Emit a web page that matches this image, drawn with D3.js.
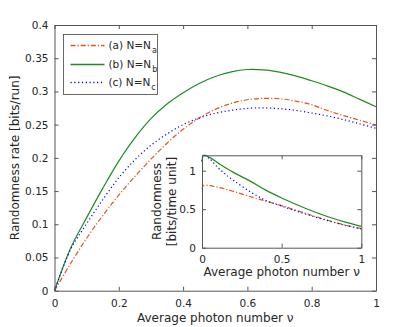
<!DOCTYPE html>
<html>
<head>
<meta charset="utf-8">
<script src="https://cdn.jsdelivr.net/npm/d3@7"></script>
<style>
  body { margin: 0; background: #fff; }
  svg { font-family: "DejaVu Sans", sans-serif; }
  .axis text { fill: #262626; }
  .axis line, .axis path { stroke: #555; }
</style>
</head>
<body>
<svg></svg>
<script>
const W = 415, H = 327;

// main plot data
const nu = [0, 0.05, 0.1, 0.15, 0.2, 0.25, 0.3, 0.35, 0.4, 0.45, 0.5, 0.55, 0.6, 0.65, 0.7, 0.75, 0.8, 0.85, 0.9, 0.95, 1];
const rateA = [0, 0.041, 0.079, 0.113, 0.144, 0.172, 0.198, 0.222, 0.243, 0.26, 0.273, 0.282, 0.2875, 0.2895, 0.289, 0.2855, 0.28, 0.271, 0.2635, 0.2565, 0.2495];
const rateB = [0, 0.064, 0.11, 0.154, 0.195, 0.23, 0.259, 0.281, 0.298, 0.312, 0.3225, 0.3295, 0.333, 0.3325, 0.329, 0.3235, 0.316, 0.308, 0.299, 0.288, 0.277];
const rateC = [0, 0.062, 0.101, 0.137, 0.17, 0.197, 0.219, 0.236, 0.25, 0.26, 0.267, 0.2715, 0.2745, 0.2752, 0.274, 0.2715, 0.2675, 0.263, 0.2575, 0.251, 0.2445];

// inset data (per time unit)
const nuIn = [0, 0.01, 0.05, 0.1, 0.15, 0.2, 0.3, 0.4, 0.5, 0.6, 0.7, 0.8, 0.9, 1];
const perTimeA = [0.76, 0.81, 0.805, 0.785, 0.76, 0.73, 0.665, 0.605, 0.546, 0.48, 0.413, 0.35, 0.294, 0.248];
const perTimeB = [1.12, 1.2, 1.17, 1.1, 1.035, 0.975, 0.868, 0.748, 0.646, 0.555, 0.47, 0.395, 0.332, 0.277];
const perTimeC = [1.12, 1.2, 1.15, 1.04, 0.95, 0.87, 0.73, 0.615, 0.54, 0.47, 0.405, 0.345, 0.29, 0.245];

const xTicks = [0, 0.2, 0.4, 0.6, 0.8, 1];
const yTicks = [0, 0.05, 0.1, 0.15, 0.2, 0.25, 0.3, 0.35, 0.4];
const inTicks = [0, 0.5, 1];

const series = [
  { label: "(a) N=N", sub: "a", main: rateA, inset: perTimeA, color: "#e0561b", dash: "5,2,1.2,2" },
  { label: "(b) N=N", sub: "b", main: rateB, inset: perTimeB, color: "#1e8c1e", dash: null },
  { label: "(c) N=N", sub: "c", main: rateC, inset: perTimeC, color: "#0000ff", dash: "1.2,2.6" }
];

const svg = d3.select("svg").attr("width", W).attr("height", H);
svg.append("rect").attr("width", W).attr("height", H).attr("fill", "#fff");

function drawBox(g, x, y, xt, yt, fmt, pad) {
  const [x0, x1] = x.range(), [y0, y1] = y.range();
  const axes = [
    [d3.axisBottom(x).tickValues(xt).tickFormat(fmt).tickPadding(pad.x), `translate(0,${y0})`],
    [d3.axisTop(x).tickValues(xt).tickFormat(""), `translate(0,${y1})`],
    [d3.axisLeft(y).tickValues(yt).tickFormat(fmt).tickPadding(pad.y), `translate(${x0},0)`],
    [d3.axisRight(y).tickValues(yt).tickFormat(""), `translate(${x1},0)`]
  ];
  axes.forEach(([ax, tr]) => {
    g.append("g").attr("class", "axis").attr("transform", tr)
      .call(ax.tickSize(-4).tickSizeOuter(0))
      .attr("font-family", null).attr("font-size", pad.fs);
  });
}

const fmt = d => String(+d.toFixed(2));
const curve = d3.curveCatmullRom.alpha(0.5);

// ---- main plot
const x = d3.scaleLinear().domain([0, 1]).range([54.5, 376]);
const y = d3.scaleLinear().domain([0, 0.4]).range([290.7, 25]);
const main = svg.append("g");

series.forEach(s => {
  const line = d3.line().x((d, i) => x(nu[i])).y(d => y(d)).curve(curve);
  main.append("path").datum(s.main).attr("d", line)
    .attr("fill", "none").attr("stroke", s.color).attr("stroke-width", 1.2)
    .attr("stroke-dasharray", s.dash);
});
drawBox(main, x, y, xTicks, yTicks, fmt, { x: 9, y: 6, fs: 10.5 });

main.append("text").attr("x", (x(0) + x(1)) / 2).attr("y", 322).attr("text-anchor", "middle")
  .attr("font-size", 12).attr("fill", "#262626").text("Average photon number  ν");
main.append("text").attr("transform", `translate(19,${(y(0) + y(0.4)) / 2}) rotate(-90)`)
  .attr("text-anchor", "middle").attr("font-size", 12).attr("fill", "#262626")
  .text("Randomness rate [bits/run]");

// ---- legend
const leg = svg.append("g").attr("transform", "translate(63.5,34.5)");
leg.append("rect").attr("width", 94).attr("height", 60).attr("fill", "#fff").attr("stroke", "#444").attr("stroke-width", 0.8);
series.forEach((s, i) => {
  const ly = Math.round(11 + i * 18.5);
  leg.append("line").attr("x1", 7).attr("x2", 41).attr("y1", ly).attr("y2", ly)
    .attr("stroke", s.color).attr("stroke-width", 1.3).attr("stroke-dasharray", s.dash);
  const t = leg.append("text").attr("x", 45).attr("y", ly + 3.8).attr("font-size", 10.5).attr("fill", "#262626");
  t.append("tspan").text(s.label);
  t.append("tspan").attr("dy", 4).attr("dx", 1).attr("font-size", 8).text(s.sub);
});

// ---- inset
const xi = d3.scaleLinear().domain([0, 1]).range([202, 361.3]);
const yi = d3.scaleLinear().domain([0, 1.2]).range([247.7, 155.3]);
const ins = svg.append("g");
ins.append("rect").attr("x", 202).attr("y", 155.3).attr("width", 159.3).attr("height", 92.4).attr("fill", "#fff");
series.forEach(s => {
  const line = d3.line().x((d, i) => xi(nuIn[i])).y(d => yi(d)).curve(curve);
  ins.append("path").datum(s.inset).attr("d", line)
    .attr("fill", "none").attr("stroke", s.color).attr("stroke-width", 1.2)
    .attr("stroke-dasharray", s.dash);
});
drawBox(ins, xi, yi, inTicks, inTicks, fmt, { x: 8, y: 6, fs: 10.5 });

ins.append("text").attr("x", (xi(0) + xi(1)) / 2).attr("y", 276).attr("text-anchor", "middle")
  .attr("font-size", 12).attr("fill", "#262626").text("Average photon number  ν");
ins.append("text").attr("transform", `translate(161,${(yi(0) + yi(1.2)) / 2}) rotate(-90)`)
  .attr("text-anchor", "middle").attr("font-size", 12).attr("fill", "#262626").text("Randomness");
ins.append("text").attr("transform", `translate(176,${(yi(0) + yi(1.2)) / 2}) rotate(-90)`)
  .attr("text-anchor", "middle").attr("font-size", 12).attr("fill", "#262626").text("[bits/time unit]");
</script>
</body>
</html>
